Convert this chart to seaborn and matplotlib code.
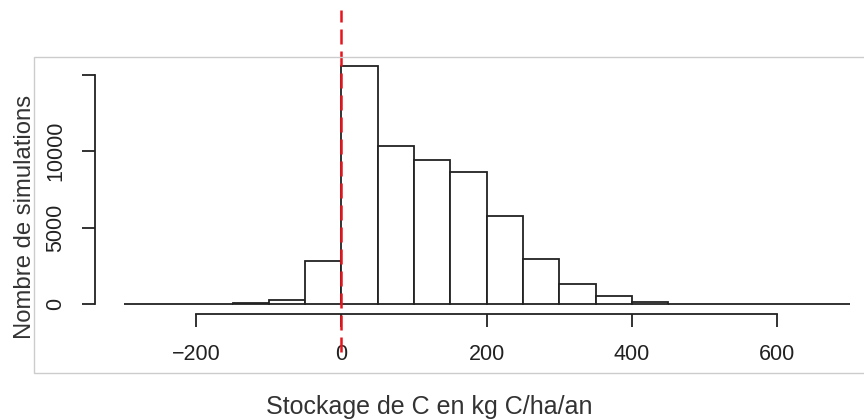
import numpy as np
import pandas as pd
import seaborn as sns
import matplotlib.pyplot as plt

# histogram of simulated C storage (bins of 50 kg C/ha/an)
bin_edges = list(range(-300, 750, 50))
counts = [1, 3, 10, 60, 262, 2800, 15550, 10370, 9440, 8630,
          5790, 2930, 1330, 545, 150, 50, 15, 5, 2, 1]
x_ticks = [-200, 0, 200, 400, 600]
y_ticks = [0, 5000, 10000, 15000]
y_tick_labels = ['0', '5000', '10000', '']  # R drops the top label

df = pd.DataFrame({'mid': [(a + b) / 2 for a, b in zip(bin_edges[:-1], bin_edges[1:])],
                   'n': counts})

sns.set_style('white')
plt.rcParams['font.family'] = ['Liberation Sans', 'DejaVu Sans']

fig = plt.figure(figsize=(8.64, 4.2), dpi=100)
ax = fig.add_axes([0, 0, 1, 1])
ax.patch.set_alpha(0)

sns.histplot(data=df, x='mid', weights='n', bins=bin_edges, ax=ax,
             color='white', edgecolor='#222222', linewidth=1.3, alpha=1)

# pixel mapping
ax.set_xlim(-470.4, 719.8)
ax.set_ylim(-7562, 19889)

# R style detached axes
for s in ['top', 'right']:
    ax.spines[s].set_visible(False)
ax.spines['left'].set_position(('data', -339.6))
ax.spines['left'].set_bounds(0, 15000)
ax.spines['bottom'].set_position(('data', -634))
ax.spines['bottom'].set_bounds(-200, 600)
for s in ['left', 'bottom']:
    ax.spines[s].set_color('#222222')
    ax.spines[s].set_linewidth(1.3)

ax.set_xticks(x_ticks)
ax.set_yticks(y_ticks)
ax.set_yticklabels(y_tick_labels, rotation=90, va='center')
ax.tick_params(axis='both', direction='out', length=9.6, width=1.3,
               bottom=True, left=True,
               color='#222222', labelsize=15.5, labelcolor='#222222')
ax.tick_params(axis='x', pad=12)
ax.tick_params(axis='y', pad=11)

ax.set_xlabel('Stockage de C en kg C/ha/an', fontsize=18, color='#333333')
ax.xaxis.set_label_coords(0.497, 0.06)
ax.set_ylabel('Nombre de simulations', fontsize=17.2, color='#333333')
ax.yaxis.set_label_coords(0.042, 0.483)

ax.axvline(0, ymin=0.162, ymax=0.976, color='#e8141c', lw=1.8,
           linestyle=(0, (6, 2.8)))

fig.add_artist(plt.Rectangle((34 / 864, 47 / 420), 1.0, 316 / 420,
                             transform=fig.transFigure, fill=False,
                             edgecolor='#cccccc', lw=1))

plt.savefig('out.png', dpi=100)
plt.close()
